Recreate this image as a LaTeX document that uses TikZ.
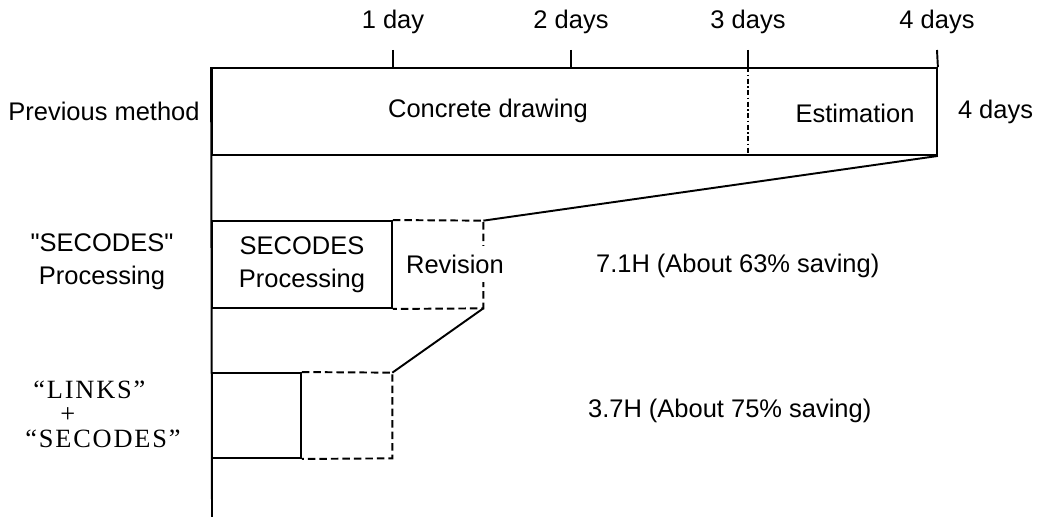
\documentclass[tikz,border=0pt]{standalone}
\usepackage{fontspec}
\setmainfont{Liberation Sans}
\newfontfamily\rawsans{Liberation Sans}[Ligatures=TeXOff]
\newfontfamily\serifA{Liberation Serif}[LetterSpace=7]
\usetikzlibrary{positioning}
\tikzset{
    tbox/.style={
        rectangle, draw=black, line width=1.1pt, inner sep=0pt,
        align=center, font=\fontsize{14.5}{19}\selectfont
    },
    tgap/.style={rectangle, inner sep=0pt},
    tline/.style={line width=1.1pt, black},
    tdash/.style={line width=1.1pt, black, dash pattern=on 0.15cm off 0.08cm},
    tdiv/.style={line width=1.1pt, black, dash pattern=on 0.1cm off 0.05cm on 0.03cm off 0.05cm},
    tlbl/.style={font=\fontsize{14.5}{19}\selectfont, align=center, inner sep=1pt},
    tser/.style={font=\serifA\fontsize{15}{14}\selectfont, align=left, inner sep=0pt},
}
\newcommand{\sq}{{\rawsans"}}

\begin{document}
\begin{tikzpicture}[x=0.02cm, y=-0.02cm]
    \useasboundingbox (0,0) rectangle (1039,517);

    % ── 时间刻度 ─────────────────────────────────────────
    \coordinate (t1) at (393,50);
    \coordinate (t2) at (571,50);
    \coordinate (t3) at (748,50);
    \coordinate (t4) at (937,50);
    \coordinate (axend) at (212,517);

    % ── 三行方框 ─────────────────────────────────────────
    \node [tbox, minimum width=14.5cm, minimum height=1.74cm] (prev) at (574.5,111.5) {};
    \node [tgap, minimum width=1.82cm, minimum height=1.74cm] (rev) at (437.5,264.5) {};
    \node [tbox, minimum width=3.6cm, minimum height=1.74cm] (sec) at (302,264.5) {SECODES\\Processing};
    \node [tgap, minimum width=1.82cm, minimum height=1.7cm] (lrev) at (346.5,415.5) {};
    \node [tbox, minimum width=1.78cm, minimum height=1.7cm] (links) at (256.5,415.5) {};

    % ── 轴线与刻度 ───────────────────────────────────────
    \draw [tline] (prev.north west) -- (axend);
    \draw [tline] (t1) -- (t1 |- prev.north);
    \draw [tline] (t2) -- (t2 |- prev.north);
    \draw [tline] (t3) -- (t3 |- prev.north);
    \draw [tline] (t4) -- (prev.north east);
    \draw [tdiv] (t3 |- prev.north) -- (t3 |- prev.south);

    % ── 虚线部分与斜线 ───────────────────────────────────
    \draw [tdash] (sec.north east) -- (rev.north east) -- (rev.south east) -- (sec.south east);
    \draw [tdash] (links.north east) -- (lrev.north east) -- (lrev.south east) -- (links.south east);
    \draw [tline] (prev.south east) -- (rev.north east);
    \draw [tline] (rev.south east) -- (lrev.north east);

    % ── 文字 ─────────────────────────────────────────────
    \node [tlbl] (d1) at (393,22) {1 day};
    \node [tlbl] (d2) at (571,22) {2 days};
    \node [tlbl] (d3) at (748,22) {3 days};
    \node [tlbl] (d4) at (937,22) {4 days};
    \node [tlbl] (conc) at (488,111) {Concrete drawing};
    \node [tlbl] (est) at (855,113) {Estimation};
    \node [tlbl, right=0.36cm of prev] (total) {4 days};
    \node [tlbl, fill=white, inner sep=5pt] (revtxt) at (455,264) {Revision};
    \node [tlbl] (prevlbl) at (104,111) {Previous method};
    \node [tlbl] (seclbl) at (102,262) {\sq SECODES\sq\\Processing};
    \node [tser, anchor=west] (linkslbl) at (25,414) {\hspace*{0.16cm}“LINKS”\\\hspace*{0.7cm}+\\“SECODES”};
    \node [tlbl, anchor=west] (sav1) at (594,266) {7.1H (About 63\% saving)};
    \node [tlbl, anchor=west] (sav2) at (586,411) {3.7H (About 75\% saving)};

\end{tikzpicture}
\end{document}
